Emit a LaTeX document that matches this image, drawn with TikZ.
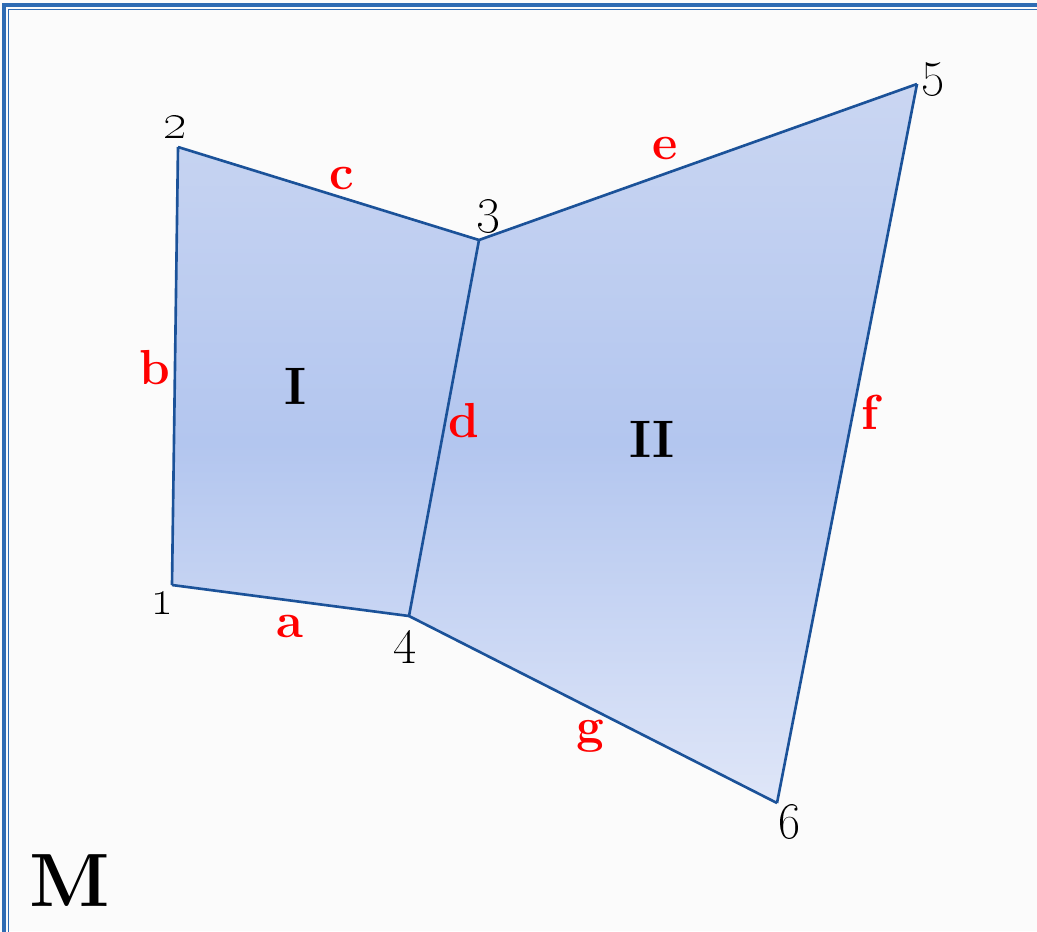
\documentclass[tikz,border=0pt]{standalone}
\definecolor{edgeblue}{HTML}{1B5299}
\definecolor{frameblue}{HTML}{2E6BB3}
\definecolor{fillA}{HTML}{CAD6F2}
\definecolor{fillB}{HTML}{B3C6EF}
\definecolor{fillC}{HTML}{DFE6F8}
\begin{document}
\begin{tikzpicture}[x=0.02cm,y=-0.02cm,line join=miter,
	edge/.style={draw=edgeblue,line width=1.5pt},
	vlabel/.style={font=\fontsize{29}{31}\selectfont},
	elabel/.style={text=red,font=\fontsize{28}{30}\selectfont\bfseries},
	region/.style={font=\fontsize{30}{32}\selectfont\bfseries}]
	
	\useasboundingbox[fill=gray!3] (0,0) rectangle (1037,931);
	\draw[frameblue,line width=2pt] (4,5) rectangle (1060,960);
	\draw[frameblue,line width=0.8pt] (8.5,9.5) rectangle (1060,960);
	
	% corners
	\coordinate (p1) at (172,585);
	\coordinate (p2) at (178,147);
	\coordinate (p3) at (479,240);
	\coordinate (p4) at (409,616);
	\coordinate (p5) at (917,84);
	\coordinate (p6) at (777,803);
	
	\shade[top color=fillA,bottom color=fillC,middle color=fillB] (p1) -- (p2) -- (p3) -- (p5) -- (p6) -- (p4) -- cycle;
	
	\draw[edge] (p1) -- (p4);
	\draw[edge] (p1) -- (p2);
	\draw[edge] (p2) -- (p3);
	\draw[edge] (p3) -- (p4);
	\draw[edge] (p3) -- (p5);
	\draw[edge] (p5) -- (p6);
	\draw[edge] (p4) -- (p6);
	
	\node[vlabel] (n1) at (162,603) {\oldstylenums{1}};
	\node[vlabel] (n2) at (175,127) {\oldstylenums{2}};
	\node[vlabel] (n3) at (488,216) {\oldstylenums{3}};
	\node[vlabel] (n4) at (405,647) {\oldstylenums{4}};
	\node[vlabel] (n5) at (933,79) {\oldstylenums{5}};
	\node[vlabel] (n6) at (789,822) {\oldstylenums{6}};
	
	\node[elabel] (la) at (290,626) {a};
	\node[elabel] (lb) at (155,368) {b};
	\node[elabel] (lc) at (342,178) {c};
	\node[elabel] (ld) at (464,421) {d};
	\node[elabel] (le) at (665,148) {e};
	\node[elabel] (lf) at (870,412) {f};
	\node[elabel] (lg) at (590,736) {g};
	
	\node[region] (r1) at (296,386) {I};
	\node[region] (r2) at (652,439) {II};
	\node[region,font=\fontsize{43}{45}\selectfont\bfseries] (m) at (70,881) {M};
	
\end{tikzpicture}
\end{document}
